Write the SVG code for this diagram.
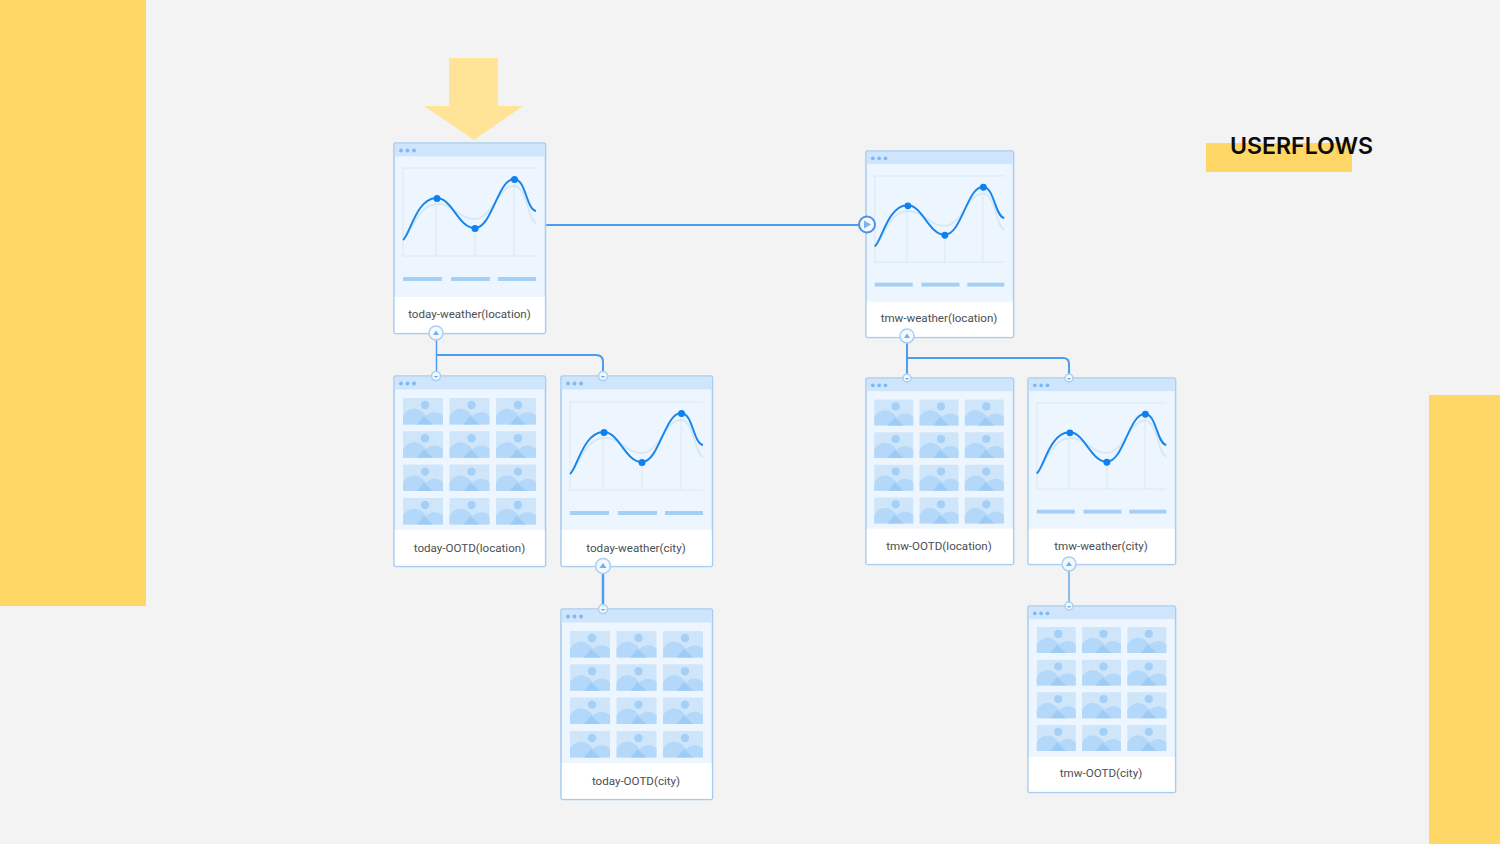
<svg xmlns="http://www.w3.org/2000/svg" width="1500" height="844" viewBox="0 0 1500 844">
<style>
.lbl{font-family:"Roboto","Liberation Sans",sans-serif;font-size:11.6px;fill:#4a4f55;text-anchor:middle}
.title{font-family:"Inter","Liberation Sans",sans-serif;font-size:23px;font-weight:600;fill:#0b0b0b}
.yl{fill:#ffd766}
.conn{fill:none;stroke:#4a9df0;stroke-width:2}
.port{fill:#f2f8fe;stroke:#a9cff2;stroke-width:1.5}
.tri{fill:#6fb0ee}
</style>
<defs>
<g id="frame">
<rect x="0" y="0" width="151.500" height="190.500" rx="2" fill="#edf6fe" stroke="#a9cdf0" stroke-width="1.6"/>
<rect x="0.800" y="0.800" width="149.900" height="12.700" fill="#cfe5fc"/>
<circle cx="7" cy="7.500" r="1.900" fill="#7db8f2"/><circle cx="13.500" cy="7.500" r="1.900" fill="#7db8f2"/><circle cx="20" cy="7.500" r="1.900" fill="#7db8f2"/>
<rect x="0.800" y="154" width="149.900" height="35.700" fill="#fff"/>
</g>
<g id="chartbody">
<path d="M9 113V25H142" fill="none" stroke="#d5e4f1" stroke-width="0.8"/>
<path d="M9 113H142M42 55V113M81 85V113M120 36V113" fill="none" stroke="#d5e4f1" stroke-width="0.8"/>
<path d="M9 97C17 90 24 62 42 61C60 60 64 76 81 76C98 76 104 43 120 43C133 43 133 76 142 80" fill="none" stroke="#d6e8f6" stroke-width="1.8"/>
<path d="M9 97C16 92 22 56 42 55C58 54 64 85 81 85C98 85 104 36 120 36C132 36 132 66 142 68" fill="none" stroke="#1a86ea" stroke-width="2"/>
<circle cx="43" cy="55.500" r="3.500" fill="#0f80f0"/><circle cx="81" cy="85.500" r="3.500" fill="#0f80f0"/><circle cx="120.500" cy="36.500" r="3.500" fill="#0f80f0"/>
<rect x="9" y="134" width="39" height="4" fill="#a6cff5"/><rect x="57" y="134" width="39" height="4" fill="#a6cff5"/><rect x="104" y="134" width="38" height="4" fill="#a6cff5"/>
</g>
<g id="tile">
<rect width="40" height="26.500" rx="1" fill="#cfe5fa"/>
<circle cx="22" cy="7" r="4.200" fill="#a4d0f8"/>
<path d="M0 26.500V18C5 9 16 8 23 18C28 13 36 13 40 18V26.500Z" fill="#b3d8f9"/>
<path d="M14 26.500L21 18L30 26.500Z" fill="#9ccbf6"/>
</g>
<g id="gridbody">
<use href="#tile" x="9" y="22"/><use href="#tile" x="55.500" y="22"/><use href="#tile" x="102" y="22"/>
<use href="#tile" x="9" y="55.300"/><use href="#tile" x="55.500" y="55.300"/><use href="#tile" x="102" y="55.300"/>
<use href="#tile" x="9" y="88.600"/><use href="#tile" x="55.500" y="88.600"/><use href="#tile" x="102" y="88.600"/>
<use href="#tile" x="9" y="122"/><use href="#tile" x="55.500" y="122"/><use href="#tile" x="102" y="122"/>
</g>
</defs>
<rect width="1500" height="844" fill="#f3f3f3"/>
<rect class="yl" x="0" y="0" width="146" height="606"/>
<rect class="yl" x="1429" y="395" width="71" height="449"/>
<path d="M449 58H498V106H523L474 140L424 106H449Z" fill="#ffe497"/>
<g id="title"><rect class="yl" x="1206" y="143" width="146" height="29"/><text class="title" x="1230" y="154" textLength="143" lengthAdjust="spacingAndGlyphs">USERFLOWS</text></g>

<g id="connectors">
<path class="conn" d="M546 225H859"/>
<path class="conn" style="stroke-width:1.5" d="M436.500 340V376"/>
<path class="conn" d="M436 355H596Q603 355 603 362V376"/>
<path class="conn" style="stroke-width:2.500" d="M603 572V609"/>
<path class="conn" d="M907 342V378M907 358H1063Q1069 358 1069 364V378"/>
<path class="conn" style="stroke-width:1.500;stroke:#6aa9e6" d="M1069 570V606"/>
</g>

<g id="n1"><use href="#frame" transform="translate(394 143)"/><use href="#chartbody" transform="translate(394 143)"/><text class="lbl" x="469.500" y="318">today-weather(location)</text></g>
<g id="n2"><use href="#frame" transform="translate(394 376)"/><use href="#gridbody" transform="translate(394 376)"/><text class="lbl" x="469.500" y="552">today-OOTD(location)</text></g>
<g id="n3"><use href="#frame" transform="translate(561 376)"/><use href="#chartbody" transform="translate(561 377)"/><text class="lbl" x="636" y="552">today-weather(city)</text></g>
<g id="n4"><use href="#frame" transform="translate(561 609)"/><use href="#gridbody" transform="translate(561 609)"/><text class="lbl" x="636" y="785">today-OOTD(city)</text></g>
<g id="n5"><use href="#frame" transform="translate(866 151) scale(0.974 0.979)"/><use href="#chartbody" transform="translate(866 151.500) scale(0.974 0.979)"/><text class="lbl" x="939" y="322">tmw-weather(location)</text></g>
<g id="n6"><use href="#frame" transform="translate(866 378) scale(0.974 0.979)"/><use href="#gridbody" transform="translate(865.500 378) scale(0.974 0.979)"/><text class="lbl" x="939" y="550">tmw-OOTD(location)</text></g>
<g id="n7"><use href="#frame" transform="translate(1028 378) scale(0.974 0.979)"/><use href="#chartbody" transform="translate(1028 378.500) scale(0.974 0.979)"/><text class="lbl" x="1101" y="550">tmw-weather(city)</text></g>
<g id="n8"><use href="#frame" transform="translate(1028 606) scale(0.974 0.979)"/><use href="#gridbody" transform="translate(1028 605.500) scale(0.974 0.979)"/><text class="lbl" x="1101" y="777">tmw-OOTD(city)</text></g>

<g id="ports">
<circle class="port" cx="436" cy="333" r="7"/><path class="tri" d="M436 330.500L439 335H433Z"/>
<circle class="port" cx="436" cy="376" r="4.500"/><path class="tri" d="M433.500 376H438.500L436 378Z"/>
<circle class="port" cx="603" cy="376" r="4.500"/><path class="tri" d="M600.500 376H605.500L603 378Z"/>
<circle class="port" cx="603" cy="566" r="7.500"/><path class="tri" d="M603 563L606.500 568H599.500Z"/>
<circle class="port" cx="603" cy="609" r="4.500"/><path class="tri" d="M600.500 609H605.500L603 611Z"/>
<circle cx="867" cy="224.500" r="8" fill="#f2f8fe" stroke="#4f8fe8" stroke-width="2"/><path d="M864 220.500L871 224.500L864 228.500Z" fill="#7fb2ee"/>
<circle class="port" cx="907" cy="336" r="7"/><path class="tri" d="M907 333.500L910 338H904Z"/>
<circle class="port" cx="907" cy="378" r="4"/><path class="tri" d="M904.800 378H909.200L907 380Z"/>
<circle class="port" cx="1069" cy="378" r="4"/><path class="tri" d="M1066.800 378H1071.200L1069 380Z"/>
<circle class="port" cx="1069" cy="564" r="7"/><path class="tri" d="M1069 561.500L1072 566H1066Z"/>
<circle class="port" cx="1069" cy="606" r="4"/><path class="tri" d="M1066.800 606H1071.200L1069 608Z"/>
</g>
</svg>
